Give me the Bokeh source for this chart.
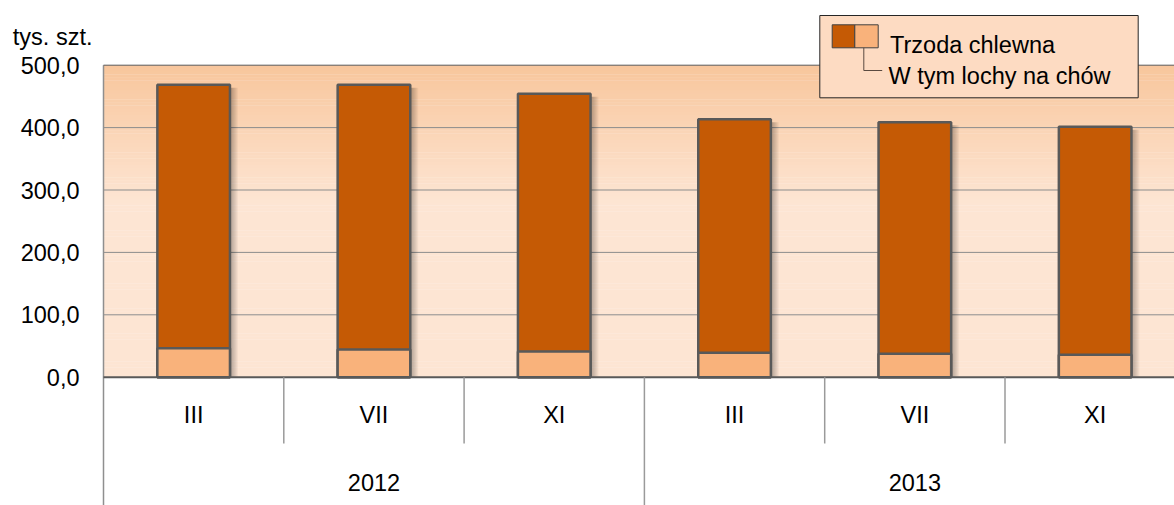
from bokeh.plotting import figure
from bokeh.models import ColumnDataSource, Range1d, BoxAnnotation, Label
from bokeh.transform import dodge
from bokeh.core.properties import value
from bokeh.embed import file_html
from bokeh.resources import INLINE

# ---------------- data ----------------
months = ["III", "VII", "XI", "III", "VII", "XI"]
years = ["2012", "2013"]
total = [468.6, 468.6, 454.2, 413.5, 408.7, 401.3]      # Trzoda chlewna
sows = [46.5, 44.4, 41.2, 39.1, 37.5, 35.9]              # W tym lochy na chów
y_ticks = [0, 100, 200, 300, 400, 500]
grid_ticks = [100, 200, 300, 400]
unit_label = "tys. szt."
series_names = ["Trzoda chlewna", "W tym lochy na chów"]

# ---------------- geometry (canvas px) ----------------
W, H = 1174, 505
PLOT_LEFT = 103          # px of plot-area left edge
CAT_PX = 180.3           # px per category
ZERO_PY = 376.7          # px of value 0
UNIT_PX = 0.624          # px per unit of value
BAR_W = 72.6 / CAT_PX
Y_MAX = 500

x_start = -PLOT_LEFT / CAT_PX
x_end = (W - PLOT_LEFT) / CAT_PX
y_end = ZERO_PY / UNIT_PX
y_start = y_end - H / UNIT_PX


def cx(px):
    return (px - PLOT_LEFT) / CAT_PX


def cy(py):
    return (ZERO_PY - py) / UNIT_PX


FONT = value("Liberation Sans")
FS = "23.5px"
DARK = "#C55A05"
LIGHT = "#F9B27B"
OUTLINE = "#595959"

p = figure(width=W, height=H, x_range=Range1d(x_start, x_end), y_range=Range1d(y_start, y_end),
           output_backend="svg", toolbar_location=None, x_axis_location=None, y_axis_location=None,
           min_border_left=0, min_border_right=0, min_border_top=0, min_border_bottom=0,
           background_fill_color="white", border_fill_color="white", outline_line_color=None)
p.grid.visible = False

# gradient plot-area background (0..500)
top_c = (248, 198, 156)
low_c = (253, 229, 211)
N = 100
for i in range(N):
    b = Y_MAX * i / N
    t = min(Y_MAX * (i + 1) / N + 0.6, Y_MAX)
    mid = (b + t) / 2
    f = max(0.0, min(1.0, (mid - 280) / 220))
    c = tuple(int(round(low_c[k] + (top_c[k] - low_c[k]) * f)) for k in range(3))
    p.add_layout(BoxAnnotation(left=0, right=x_end, bottom=b, top=t,
                               fill_color="#%02x%02x%02x" % c,
                               fill_alpha=1, line_color=None, level="image"))

# grid lines
p.segment(x0=[0] * len(grid_ticks), y0=grid_ticks, x1=[x_end] * len(grid_ticks), y1=grid_ticks,
          line_color="#8c8c8c", line_width=1)

# y axis (line + tick labels)
p.segment(x0=[0], y0=[y_start], x1=[0], y1=[Y_MAX], line_color="#8f8f8f", line_width=1.5)
tick_src = ColumnDataSource(dict(y=y_ticks, text=[f"{t:.1f}".replace(".", ",") for t in y_ticks]))
p.text(x=cx(79), y="y", text="text", source=tick_src, text_align="right", text_baseline="middle",
       text_font=FONT, text_font_size=FS, text_color="black")
p.text(x=[cx(12.3)], y=[cy(36)], text=[unit_label], text_align="left", text_baseline="alphabetic",
       text_font=FONT, text_font_size=FS, text_color="black")

# bars
xs = [i + 0.5 for i in range(len(months))]
src = ColumnDataSource(dict(x=xs, total=total, sows=sows,
                            shadow_top=[v - 3 / UNIT_PX for v in total]))
for k in range(1, 9):
    p.vbar(x=dodge("x", k / CAT_PX), width=BAR_W, top="shadow_top", bottom=0, source=src,
           fill_color="black", fill_alpha=0.04, line_color=None)
p.vbar(x="x", width=BAR_W, top="total", bottom=0, source=src,
       fill_color=DARK, line_color=OUTLINE, line_width=2.5)
p.vbar(x="x", width=BAR_W, top="sows", bottom=0, source=src,
       fill_color=LIGHT, line_color=OUTLINE, line_width=2.5)

# plot-area borders
p.segment(x0=[0], y0=[Y_MAX], x1=[x_end], y1=[Y_MAX], line_color="#595959", line_width=1)
p.segment(x0=[0], y0=[0], x1=[x_end], y1=[0], line_color="#595959", line_width=2)

# category table (below axis)
bx = list(range(1, len(months)))
short = [b for b in bx if b % 3 != 0]
long_ = [b for b in bx if b % 3 == 0]
p.segment(x0=short, y0=[0] * len(short), x1=short, y1=[cy(443)] * len(short),
          line_color="#9a9a9a", line_width=1.5)
p.segment(x0=long_, y0=[0] * len(long_), x1=long_, y1=[y_start] * len(long_),
          line_color="#9a9a9a", line_width=1.5)

msrc = ColumnDataSource(dict(x=xs, text=months))
p.text(x="x", y=cy(414), text="text", source=msrc, text_align="center", text_baseline="middle",
       text_font=FONT, text_font_size=FS, text_color="black")
ysrc = ColumnDataSource(dict(x=[g * 3 + 1.5 for g in range(len(years))], text=years))
p.text(x="x", y=cy(481.5), text="text", source=ysrc, text_align="center", text_baseline="middle",
       text_font=FONT, text_font_size=FS, text_color="black")

# legend
p.add_layout(BoxAnnotation(left=cx(819.3), right=cx(1137.7), top=cy(15), bottom=cy(97.3),
                           fill_color="#FDDBC2", fill_alpha=1, line_color="#262626",
                           line_alpha=1, line_width=1))
p.add_layout(BoxAnnotation(left=cx(831.7), right=cx(854.3), top=cy(24.3), bottom=cy(47.3),
                           fill_color=DARK, fill_alpha=1, line_color="#404040",
                           line_alpha=1, line_width=1))
p.add_layout(BoxAnnotation(left=cx(854.3), right=cx(877.7), top=cy(24.3), bottom=cy(47.3),
                           fill_color=LIGHT, fill_alpha=1, line_color="#404040",
                           line_alpha=1, line_width=1))
conn = p.line(x=[cx(863.3), cx(863.3), cx(881.7)], y=[cy(47.3), cy(70), cy(70)],
              line_color="#5a4a40", line_width=1)
conn.level = "overlay"
p.add_layout(Label(x=cx(889.5), y=cy(44.3), text=series_names[0], text_baseline="alphabetic",
                   text_font="Liberation Sans", text_font_size=FS, text_color="black"))
p.add_layout(Label(x=cx(888), y=cy(75), text=series_names[1], text_baseline="alphabetic",
                   text_font="Liberation Sans", text_font_size=FS, text_color="black"))

open("out.html", "w").write(file_html(p, INLINE))
